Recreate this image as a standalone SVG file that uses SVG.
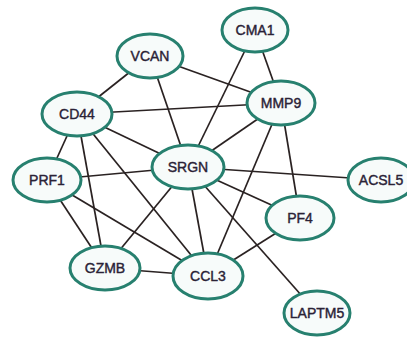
<svg xmlns="http://www.w3.org/2000/svg" width="407" height="338" viewBox="0 0 407 338">
<style>
.e{stroke:#2a2222;stroke-width:1.7;fill:none}
.n ellipse{fill:#f7fbfa;stroke:#27806f;stroke-width:3}
.n text{font-family:"Liberation Sans",Arial,sans-serif;font-size:14px;fill:#2a2236;text-anchor:middle;dominant-baseline:central;stroke:#2a2236;stroke-width:0.4}
</style>
<rect width="407" height="338" fill="#ffffff"/>
<g id="edges">
<line class="e" x1="150" y1="56" x2="77" y2="114"/>
<line class="e" x1="150" y1="56" x2="188" y2="167"/>
<line class="e" x1="150" y1="56" x2="281" y2="103"/>
<line class="e" x1="255" y1="30" x2="281" y2="103"/>
<line class="e" x1="255" y1="30" x2="188" y2="167"/>
<line class="e" x1="77" y1="114" x2="281" y2="103"/>
<line class="e" x1="77" y1="114" x2="188" y2="167"/>
<line class="e" x1="77" y1="114" x2="47" y2="180"/>
<line class="e" x1="77" y1="114" x2="105" y2="268"/>
<line class="e" x1="77" y1="114" x2="208" y2="276"/>
<line class="e" x1="281" y1="103" x2="188" y2="167"/>
<line class="e" x1="281" y1="103" x2="208" y2="276"/>
<line class="e" x1="281" y1="103" x2="300" y2="218"/>
<line class="e" x1="47" y1="180" x2="188" y2="167"/>
<line class="e" x1="47" y1="180" x2="105" y2="268"/>
<line class="e" x1="47" y1="180" x2="208" y2="276"/>
<line class="e" x1="188" y1="167" x2="380" y2="180"/>
<line class="e" x1="188" y1="167" x2="300" y2="218"/>
<line class="e" x1="188" y1="167" x2="105" y2="268"/>
<line class="e" x1="188" y1="167" x2="208" y2="276"/>
<line class="e" x1="188" y1="167" x2="317" y2="313"/>
<line class="e" x1="105" y1="268" x2="208" y2="276"/>
<line class="e" x1="300" y1="218" x2="208" y2="276"/>
</g>
<g id="CMA1" class="n"><ellipse cx="255" cy="30" rx="33" ry="22"/><text x="255" y="30">CMA1</text></g>
<g id="VCAN" class="n"><ellipse cx="150" cy="56" rx="33" ry="22"/><text x="150" y="56">VCAN</text></g>
<g id="MMP9" class="n"><ellipse cx="281" cy="103" rx="34" ry="22"/><text x="281" y="103">MMP9</text></g>
<g id="CD44" class="n"><ellipse cx="77" cy="114" rx="35" ry="22"/><text x="77" y="114">CD44</text></g>
<g id="SRGN" class="n"><ellipse cx="188" cy="167" rx="36" ry="22"/><text x="188" y="167">SRGN</text></g>
<g id="PRF1" class="n"><ellipse cx="47" cy="180" rx="34" ry="22"/><text x="47" y="180">PRF1</text></g>
<g id="ACSL5" class="n"><ellipse cx="381" cy="180" rx="33" ry="22"/><text x="381" y="180">ACSL5</text></g>
<g id="PF4" class="n"><ellipse cx="300" cy="218" rx="34" ry="22"/><text x="300" y="218">PF4</text></g>
<g id="GZMB" class="n"><ellipse cx="105" cy="268" rx="35" ry="22"/><text x="105" y="268">GZMB</text></g>
<g id="CCL3" class="n"><ellipse cx="208" cy="276" rx="35" ry="23"/><text x="208" y="276">CCL3</text></g>
<g id="LAPTM5" class="n"><ellipse cx="317" cy="313" rx="33" ry="22"/><text x="317" y="313">LAPTM5</text></g>
</svg>
